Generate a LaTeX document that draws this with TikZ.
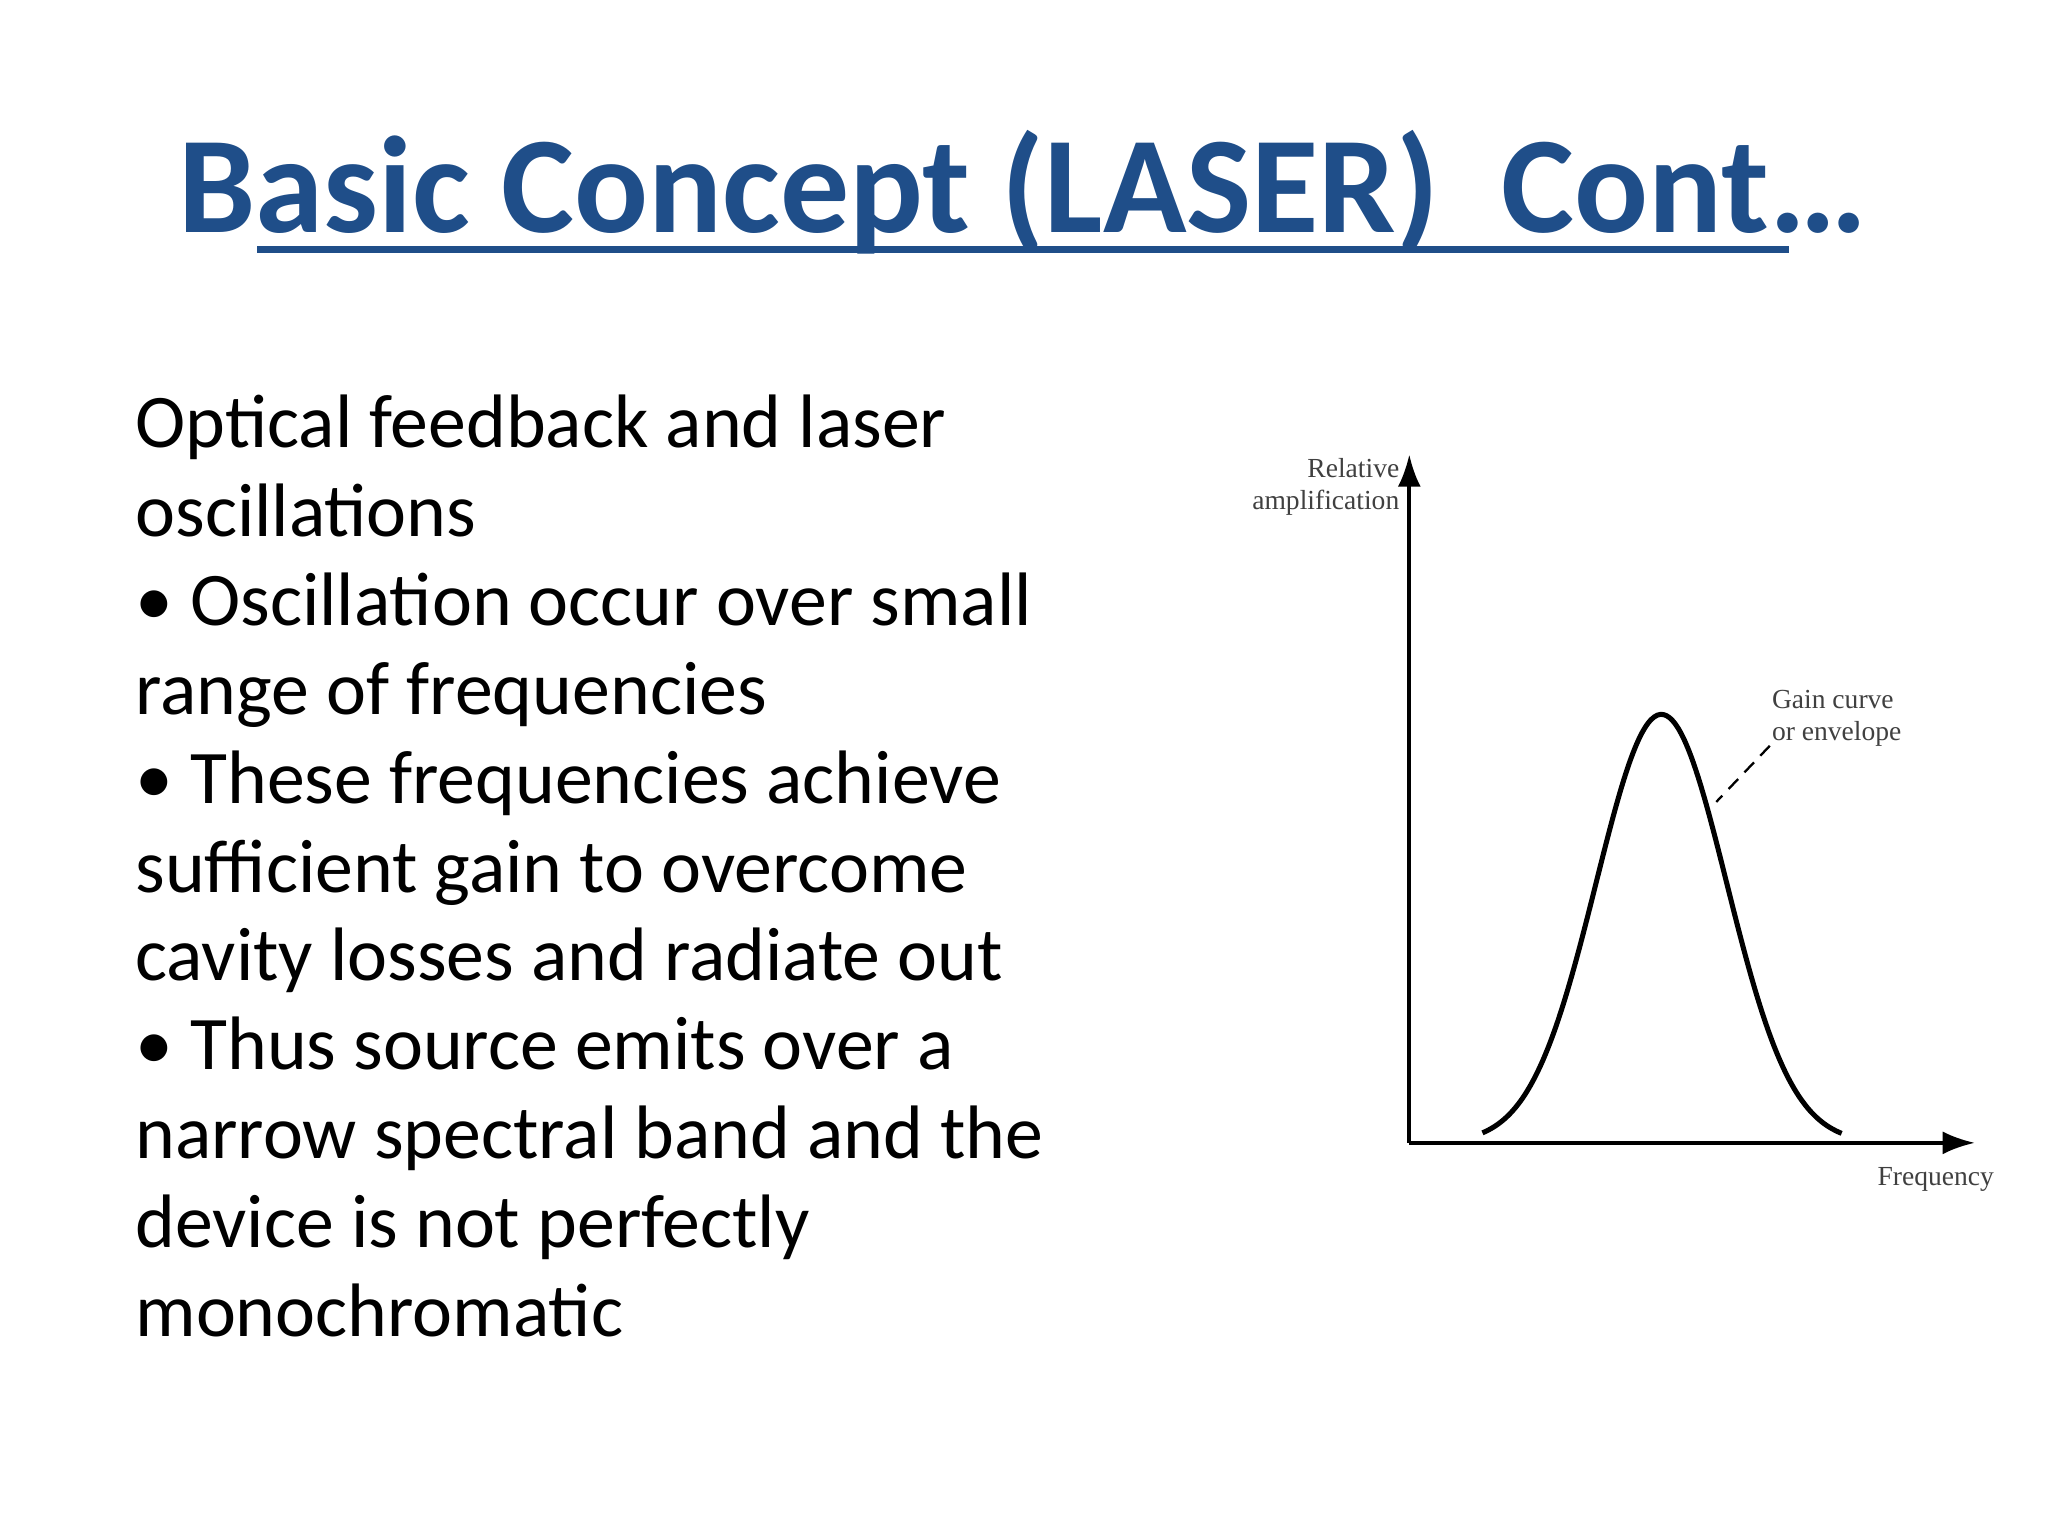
\documentclass[tikz,border=0pt]{standalone}
\usepackage{fontspec}
\usetikzlibrary{arrows.meta}
\setmainfont{Carlito}
\newfontfamily\smallserif{Liberation Serif}
\definecolor{titleblue}{HTML}{1F4E89}
\begin{document}
\begin{tikzpicture}[x=0.01cm,y=-0.01cm,
  body/.style={anchor=base west,inner sep=0pt,font=\fontsize{16.5}{20}\selectfont},
  lab/.style={inner sep=0pt,font=\smallserif\fontsize{6}{7}\selectfont,text=black!75,align=left},
  axisline/.style={line width=0.8pt,-{Latex[length=7pt,width=5pt]}}]
\useasboundingbox (0,0) rectangle (1568,1176);
\node[inner sep=0pt,anchor=base,text=titleblue,font=\bfseries\fontsize{30}{36}\selectfont] (title) at (783,178) {Basic Concept (LASER)\ \ Cont…};
\draw[titleblue,line width=1.5pt] (197,191) -- (1370,191);
\foreach \t [count=\i] in {Optical feedback and laser,oscillations,• Oscillation occur over small,range of frequencies,• These frequencies achieve,sufficient gain to overcome,cavity losses and radiate out,• Thus source emits over a,narrow spectral band and the,device is not perfectly,monochromatic}
  \node[body] (l\i) at (103,{343+68*(\i-1)}) {\t};
\coordinate (o) at (1079,875);
\coordinate (ytop) at (1079,348);
\coordinate (xend) at (1512,875);
\draw[axisline] (o) -- (ytop);
\draw[axisline] (o) -- (xend);
\draw[line width=1.1pt,domain=1135:1410,samples=120,smooth] plot (\x,{875-328*exp(-((\x-1272)/50)^2/2)});
\node[lab,align=right,anchor=east] (ya) at (1072,373) {Relative\\amplification};
\node[lab,anchor=west] (gc) at (1356,550) {Gain curve\\or envelope};
\coordinate (gp) at (1314,614);
\draw[densely dashed,line width=0.5pt] (1355,571) -- (gp);
\node[lab,anchor=north] (fr) at (1482,893) {Frequency};
\end{tikzpicture}
\end{document}
